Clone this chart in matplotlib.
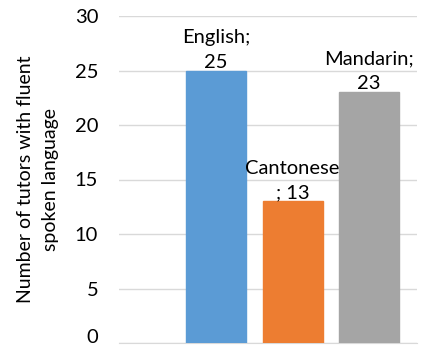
import matplotlib.pyplot as plt
from matplotlib.transforms import offset_copy

languages = ['English', 'Cantonese', 'Mandarin']
tutors = [25, 13, 23]
labels = ['English;\n25', 'Cantonese\n; 13', 'Mandarin;\n23']
colors = ['#5B9BD5', '#ED7D31', '#A5A5A5']

plt.rcParams['font.family'] = ['Lato', 'DejaVu Sans']

fig = plt.figure(figsize=(4.21, 3.46), dpi=100)
ax = fig.add_axes([119/421, 1-343/346, (417-119)/421, (343-16)/346])

x = range(len(languages))
bars = ax.bar(x, tutors, width=0.784, color=colors, zorder=3)
for b, c in zip(bars, colors):
    b.set_edgecolor(c)

for xi, v, lab in zip(x, tutors, labels):
    ax.text(xi, v, lab, ha='center', va='bottom', fontsize=14.5,
            linespacing=1.55, color='#000000')

ax.set_ylim(0, 30)
ax.set_xlim(-1.268, 2.627)
ax.set_yticks(range(0, 31, 5))
ax.set_xticks([])
ax.grid(axis='y', color='#D9D9D9', linewidth=1, zorder=0)
for s in ['top', 'right', 'left']:
    ax.spines[s].set_visible(False)
ax.spines['bottom'].set_color('#D9D9D9')
ax.tick_params(axis='y', length=0, labelsize=14.5, pad=15)
# lift the "0" label so it stays inside the image
lbl0 = ax.get_yticklabels()[0]
lbl0.set_transform(offset_copy(lbl0.get_transform(), fig=fig, y=5, units='points'))
ax.set_ylabel('Number of tutors with fluent\nspoken language', fontsize=14,
              linespacing=1.6)
ax.yaxis.set_label_coords(-0.20, 0.5)

fig.savefig('out.png', dpi=100)
